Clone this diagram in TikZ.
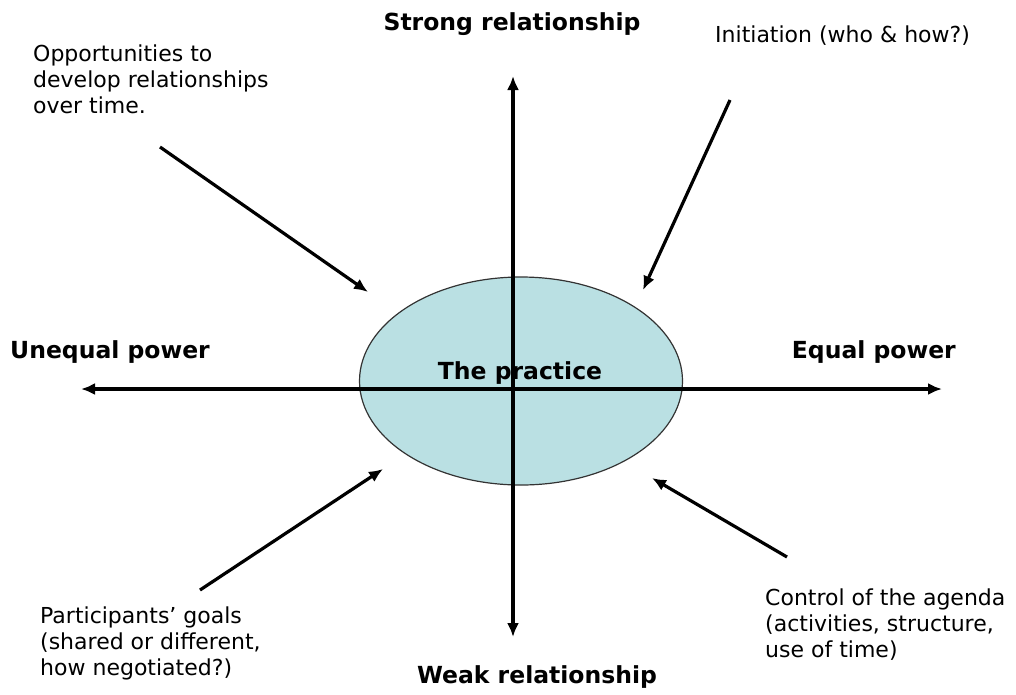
\documentclass[tikz,border=0pt]{standalone}
\usepackage{fontspec}
\setmainfont{DejaVu Sans}
\usetikzlibrary{arrows.meta,shapes.geometric}
\definecolor{practice}{RGB}{186,224,227}
\tikzset{>={Latex[length=14pt,width=12pt]}}
\tikzset{
    axis/.style={<->,line width=3.2pt},
    pointer/.style={->,line width=3.2pt},
    pole/.style={font=\bfseries\fontsize{23.5}{26}\selectfont,inner sep=0pt},
    note/.style={font=\fontsize{22}{26}\selectfont,align=left,inner sep=0pt,anchor=north west},
}

\begin{document}
\begin{tikzpicture}[x=1pt,y=-1pt]
    \useasboundingbox (0,0) rectangle (1016,694);
    % the practice
    \node[ellipse,draw=black!80,line width=1.2pt,fill=practice,
        minimum width=323pt,minimum height=208pt] (prac) at (521,381) {};
    % the two axes
    \coordinate (top) at (513,76);
    \coordinate (bot) at (513,637);
    \coordinate (lft) at (81,389);
    \coordinate (rgt) at (942,389);
    \draw[axis] (bot) -- (top);
    \draw[axis] (lft) -- (rgt);
    \node[pole,anchor=base] (prtxt) at (520,379) {The practice};
    % poles
    \node[pole,anchor=base] (strong) at (512,30) {Strong relationship};
    \node[pole,anchor=base] (weak) at (537,683) {Weak relationship};
    \node[pole,anchor=base west] (unequal) at (10,358) {Unequal power};
    \node[pole,anchor=base east] (equal) at (956,358) {Equal power};
    % the four aspects
    \node[note] (opps) at (33,45) {Opportunities to\\develop relationships\\over time.};
    \node[note] (initiation) at (715,26) {Initiation (who \& how?)};
    \node[note] (goals) at (40,607) {Participants’ goals\\(shared or different,\\how negotiated?)};
    \node[note] (agenda) at (765,589) {Control of the agenda\\(activities, structure,\\use of time)};
    \coordinate (o1) at (160,147);  \coordinate (o2) at (368,292);
    \coordinate (i1) at (730,100);  \coordinate (i2) at (643,290);
    \coordinate (g1) at (200,590);  \coordinate (g2) at (383,469);
    \coordinate (c1) at (787,557);  \coordinate (c2) at (652,478);
    \draw[pointer] (o1) -- (o2);
    \draw[pointer] (i1) -- (i2);
    \draw[pointer] (g1) -- (g2);
    \draw[pointer] (c1) -- (c2);
\end{tikzpicture}
\end{document}
